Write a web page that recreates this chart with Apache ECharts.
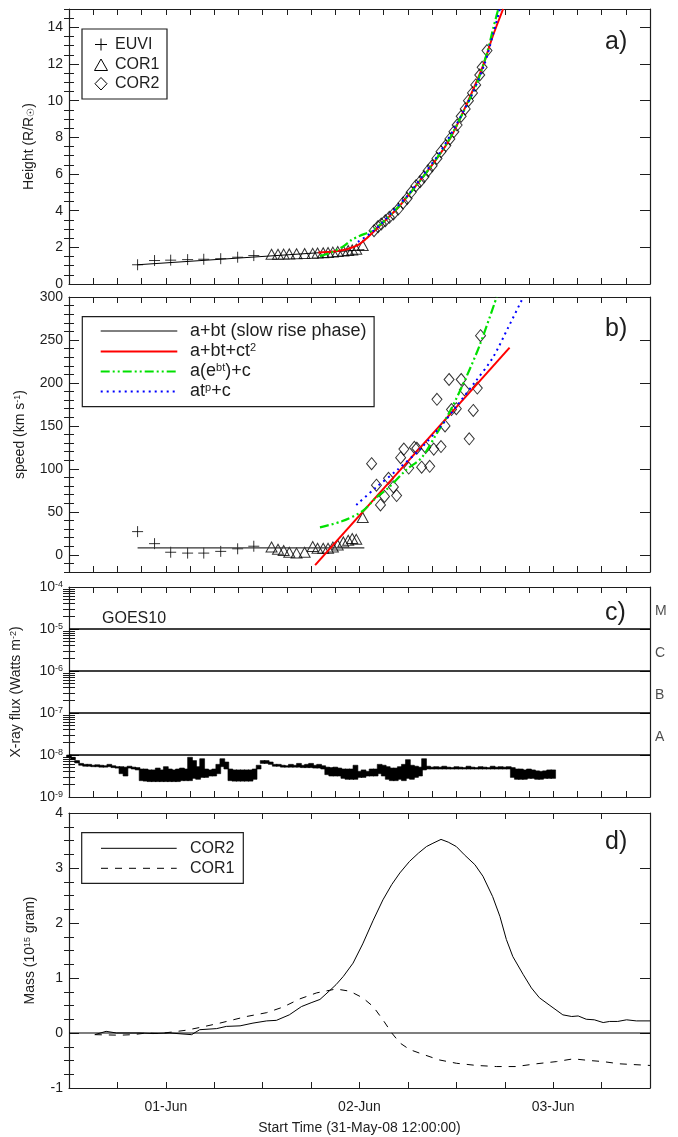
<!DOCTYPE html>
<html><head><meta charset="utf-8">
<script src="https://cdn.jsdelivr.net/npm/echarts@6/dist/echarts.min.js"></script>
<style>html,body{margin:0;padding:0;background:#fff}#c{width:678px;height:1137px}</style>
</head><body><div id="c"></div>
<script>
// ---------------- DATA (hours since 31-May-08 12:00) ----------------
const xTickHours = [12, 36, 60];
const xTickLabels = ['01-Jun', '02-Jun', '03-Jun'];

// panel a/b : observations
const euviT = [8.5, 10.6, 12.6, 14.7, 16.7, 18.8, 20.9, 22.9];
const euviHeight = [1.05, 1.28, 1.30, 1.33, 1.35, 1.38, 1.46, 1.55];
const euviSpeed = [27, 13, 3, 2, 2, 4, 7, 10];

const cor1T = [25.1, 25.9, 26.6, 27.3, 28.2, 29.2, 30.2, 30.8, 31.5, 32.1, 32.7, 33.3, 34.0, 34.6, 35.1, 35.6, 36.4];
const cor1Height = [1.62, 1.62, 1.63, 1.64, 1.65, 1.66, 1.67, 1.69, 1.70, 1.72, 1.74, 1.77, 1.80, 1.83, 1.86, 1.90, 2.10];
const cor1Speed = [9, 6.5, 5, 3, 2, 3, 9.6, 7.7, 7.7, 7.7, 9, 11.5, 15, 17, 19, 18, 43.5];

const cor2T = [37.8, 38.3, 38.7, 39.2, 39.7, 40.2, 40.8, 41.4, 41.9, 42.4, 43.0, 43.5, 44.0, 44.5, 45.0, 45.6, 46.1, 46.7, 47.2, 47.7, 48.1, 48.6, 49.1, 49.5, 50.0, 50.4, 50.9, 51.2, 51.8];
const cor2Height = [2.91, 3.13, 3.27, 3.45, 3.64, 3.82, 4.09, 4.42, 4.67, 5.0, 5.36, 5.58, 5.85, 6.18, 6.45, 6.85, 7.22, 7.55, 7.91, 8.31, 8.67, 9.15, 9.55, 10.0, 10.42, 10.86, 11.4, 11.82, 12.73];
const cor2SpeedT = [37.5, 38.1, 38.6, 39.1, 39.6, 40.2, 40.6, 41.1, 41.5, 42.1, 42.8, 43.1, 43.7, 44.2, 44.7, 45.2, 45.6, 46.1, 46.6, 47.1, 47.4, 48.0, 48.6, 49.0, 49.6, 50.1, 50.6, 51.0];
const cor2Speed = [106, 81, 58, 68, 89, 79, 69, 113, 123, 101, 125, 124, 102, 125, 103, 123, 181, 126, 150, 204, 169, 170, 204, 192, 135, 168, 194, 255];

// panel a : fits (height)
const linFitT_a = [8.5, 36.6];
const linFitH = [1.05, 1.87];
const quadFitT_a = [30.9, 32.5, 34, 35, 36, 36.9, 38.1, 39.5, 41, 43, 45.1, 47.2, 49.2, 51.3, 52.5, 53.8];
const quadFitH = [1.72, 1.76, 1.85, 1.98, 2.18, 2.5, 3.0, 3.6, 4.27, 5.36, 6.55, 7.91, 9.73, 11.9, 13.5, 15.0];
const expFitT_a = [31.1, 32.5, 34, 35, 36, 37.5, 39, 41, 43, 45, 47, 49, 50.5, 51.8, 52.6, 53.2];
const expFitH = [1.52, 1.72, 2.05, 2.4, 2.62, 2.9, 3.4, 4.3, 5.35, 6.5, 7.8, 9.5, 10.9, 12.6, 14.0, 15.0];
const powFitT_a = [35.8, 37, 38.5, 40, 42, 44, 46, 48, 50, 51.5, 52.6, 53.4];
const powFitH = [2.3, 2.65, 3.2, 3.9, 4.85, 6.0, 7.2, 8.7, 10.4, 12.0, 13.7, 15.0];

// panel b : fits (speed)
const linFitT_b = [8.5, 36.6];
const linFitV = [8, 8];
const quadFitT_b = [30.5, 54.6];
const quadFitV = [-12, 241];
const expFitT_b = [31.1, 33.8, 36.4, 38.0, 39.6, 41.8, 43.7, 45.5, 47.1, 49.0, 50.9, 53.0];
const expFitV = [32, 39, 51, 66, 78, 99, 113, 140, 165, 202, 244, 300];
const powFitT_b = [35.6, 38.0, 40.7, 43.4, 46.1, 48.2, 50.4, 52.5, 54.4, 56.3];
const powFitV = [58, 78, 99, 122, 150, 175, 202, 229, 264, 300];

// panel c : GOES10 X-ray flux envelope (units of 1e-9 W m^-2)
const goesT = [0,0.5,1,1.5,2,2.5,3,3.5,4,4.5,5,5.5,6,6.5,7,7.5,8,8.5,9,9.5,10,10.5,11,11.5,12,12.5,13,13.5,14,14.5,15,15.5,16,16.5,17,17.5,18,18.5,19,19.5,20,20.5,21,21.5,22,22.5,23,23.5,24,24.5,25,25.5,26,26.5,27,27.5,28,28.5,29,29.5,30,30.5,31,31.5,32,32.5,33,33.5,34,34.5,35,35.5,36,36.5,37,37.5,38,38.5,39,39.5,40,40.5,41,41.5,42,42.5,43,43.5,44,44.5,45,45.5,46,46.5,47,47.5,48,48.5,49,49.5,50,50.5,51,51.5,52,52.5,53,53.5,54,54.5,55,55.5,56,56.5,57,57.5,58,58.5,59,59.5,60];
const goesUpper = [10,8.8,7.36,6.31,5.99,5.99,5.70,5.85,5.70,5.55,
 5.99,5.55,5.27,5.27,5.14,5.41,5.14,5.01,4.64,4.64,
 4.41,4.41,4.89,4.41,5.27,4.64,4.41,4.64,4.89,4.64,
 8.8,7.36,5.27,8.15,4.64,4.41,4.64,5.99,8.15,6.81,
 4.64,4.41,4.41,4.41,4.41,4.41,4.64,5.70,7.36,7.36,
 6.81,5.99,5.99,5.70,5.55,5.99,5.70,6.31,5.70,5.99,
 6.31,5.70,5.99,5.55,5.14,5.01,5.14,4.89,4.64,4.64,
 4.64,5.70,4.08,4.41,4.08,4.64,4.64,5.99,5.70,5.27,
 4.89,4.89,5.27,5.99,7.74,5.70,5.41,5.14,8.15,5.41,
 5.14,5.27,5.14,5.41,5.14,5.01,5.27,5.14,5.01,5.41,
 5.14,5.01,5.27,5.14,5.01,5.41,5.14,5.27,5.14,5.27,
 5.01,4.64,4.64,4.41,4.64,4.41,4.19,4.08,4.19,4.41,
 4.41];
const goesLower = [8.8,7.74,6.47,5.70,5.41,5.41,5.27,5.27,5.14,5.14,
 5.27,5.01,4.89,3.59,3.16,4.89,4.64,4.41,2.45,2.39,
 2.33,2.33,2.33,2.33,2.33,2.33,2.33,2.33,2.45,2.45,
 2.45,2.78,2.64,2.93,2.93,3.16,3.16,3.59,5.27,4.64,
 2.45,2.39,2.39,2.39,2.39,2.39,2.64,4.64,6.31,6.31,
 5.99,5.41,5.41,5.14,5.14,5.14,5.14,5.14,5.01,5.01,
 5.01,4.89,4.89,4.64,3.41,3.16,3.16,3.16,2.78,2.64,
 2.64,2.64,2.93,2.93,3.16,3.16,3.16,3.59,3.16,2.64,
 2.45,2.45,2.64,2.45,2.78,2.64,2.93,3.16,4.41,4.64,
 4.64,4.64,4.64,4.64,4.64,4.64,4.64,4.64,4.64,4.64,
 4.64,4.64,4.64,4.64,4.64,4.64,4.64,4.64,4.64,4.64,
 2.93,2.64,2.64,2.64,2.78,2.78,2.64,2.64,2.78,2.78,
 2.78];
const flareLevels = [1e-8, 1e-7, 1e-6, 1e-5];
const flareClasses = ['A', 'B', 'C', 'M'];
const flareClassLabelAt = [2.6e-8, 2.6e-7, 2.6e-6, 2.6e-5];

// panel d : mass (1e15 g)
const massCor2T = [3.2,4.6,5.9,8.8,10.4,12.5,15.2,16.2,18.3,19.5,21.2,22.8,24.5,25.7,27.3,28.8,30.0,31.1,32.3,33.1,34.0,35.2,36.4,37.7,38.9,40.0,41.0,42.2,43.3,44.3,45.1,46.1,47.0,48.0,49.0,50.3,51.3,52.5,53.4,54.2,55.0,56.3,57.3,58.3,59.6,61.2,62.3,63.1,64.1,65.1,66.2,67.0,68.0,69.1,70.3,72];
const massCor2 = [-0.03,0.03,0.0,0.0,-0.01,0.0,-0.03,0.06,0.08,0.12,0.13,0.18,0.22,0.23,0.33,0.48,0.55,0.61,0.77,0.88,1.03,1.27,1.62,2.05,2.42,2.70,2.91,3.12,3.27,3.39,3.45,3.52,3.47,3.39,3.24,3.06,2.85,2.48,2.12,1.70,1.39,1.06,0.82,0.64,0.50,0.33,0.30,0.31,0.25,0.24,0.19,0.21,0.21,0.24,0.22,0.22];
const massCor1T = [3.2,6.3,7.9,9.6,11.2,12.9,14.5,16.2,18.7,22.0,24.5,26.5,28.6,30.7,33.1,34.8,36.4,37.7,38.9,40.0,41.0,42.2,43.9,45.9,48.0,50.5,53.0,55.4,57.9,60.4,62.5,64.5,66.2,68.2,72];
const massCor1 = [-0.03,-0.04,-0.03,0.0,-0.01,0.02,0.05,0.10,0.18,0.30,0.37,0.47,0.62,0.73,0.80,0.76,0.64,0.48,0.24,0.0,-0.18,-0.30,-0.39,-0.49,-0.55,-0.59,-0.61,-0.61,-0.56,-0.52,-0.47,-0.50,-0.52,-0.56,-0.59];

// ---------------- STYLE / LAYOUT ----------------
const FONT = "'Liberation Sans', Arial, Helvetica, sans-serif";
const INK = '#1e1e1e';
const X0 = 0, X1 = 72;
const grids = [
  {left: 69, width: 581, top: 9, height: 275},
  {left: 69, width: 581, top: 297, height: 275},
  {left: 69, width: 581, top: 587, height: 210},
  {left: 69, width: 581, top: 813, height: 275}
];
const richName = {
  n: {fontSize: 14, fontFamily: FONT, color: INK},
  sup: {fontSize: 9, fontFamily: FONT, color: INK, verticalAlign: 'top'},
  sub: {fontSize: 10, fontFamily: FONT, color: INK, verticalAlign: 'bottom'}
};

function seq(a, b, s) { const r = []; for (let v = a; v <= b + 1e-9; v += s) r.push(Math.round(v * 1e6) / 1e6); return r; }
function minus(arr, ex) { return arr.filter(v => !ex.some(e => Math.abs(e - v) < 1e-9)); }

const xAxes = [], yAxes = [];
function addX(gi, step, bottomLabel) {
  const ticks = seq(X0, X1, step);
  const base = {
    type: 'value', gridIndex: gi, min: X0, max: X1, splitLine: {show: false},
    axisLine: {show: true, onZero: false, lineStyle: {color: INK, width: 1.2}},
    axisTick: {show: true, inside: true, length: 6, customValues: ticks, lineStyle: {color: INK, width: 1}}
  };
  const bottom = Object.assign({}, base, {position: 'bottom', axisLabel: {show: false}});
  if (bottomLabel) {
    bottom.axisLabel = {
      show: true, customValues: xTickHours, margin: 12, fontSize: 14, color: INK, fontFamily: FONT,
      formatter: v => { const i = xTickHours.indexOf(v); return i >= 0 ? xTickLabels[i] : ''; }
    };
    bottom.name = 'Start Time (31-May-08 12:00:00)';
    bottom.nameLocation = 'middle';
    bottom.nameGap = 33;
    bottom.nameTextStyle = {fontSize: 14, color: INK, fontFamily: FONT};
  }
  xAxes.push(bottom);
  xAxes.push(Object.assign({}, base, {position: 'top', axisLabel: {show: false}}));
}
function addY(gi, c) {
  const common = {type: c.type || 'value', gridIndex: gi, min: c.min, max: c.max, splitLine: {show: false}};
  if (c.type === 'log') common.logBase = 10;
  const line = {show: true, onZero: false, lineStyle: {color: INK, width: 1.2}};
  const tickStyle = {color: INK, width: 1};
  yAxes.push(Object.assign({}, common, {
    position: 'left', axisLine: line,
    axisTick: {show: true, inside: true, length: 10, customValues: c.major, lineStyle: tickStyle},
    axisLabel: Object.assign({show: true, customValues: c.major, margin: 6, fontSize: 14, color: INK, fontFamily: FONT}, c.label || {}),
    name: c.name, nameLocation: 'middle', nameGap: c.nameGap,
    nameTextStyle: {fontSize: 14, color: INK, fontFamily: FONT, rich: richName}
  }));
  yAxes.push(Object.assign({}, common, {
    position: 'left', axisLine: {show: false},
    axisTick: {show: true, inside: true, length: c.minorLen || 5, customValues: c.minor, lineStyle: tickStyle},
    axisLabel: {show: false}
  }));
  yAxes.push(Object.assign({}, common, {
    position: 'right', axisLine: line,
    axisTick: {show: true, inside: true, length: 10, customValues: c.major, lineStyle: tickStyle},
    axisLabel: {show: false}
  }));
  yAxes.push(Object.assign({}, common, {
    position: 'right', axisLine: {show: false},
    axisTick: {show: true, inside: true, length: c.minorLen || 5, customValues: c.minor, lineStyle: tickStyle},
    axisLabel: {show: false}
  }));
}

addX(0, 3, false); addX(1, 3, false); addX(2, 3, false); addX(3, 6, true);

const aMajor = seq(0, 14, 2);
addY(0, {min: 0, max: 15, major: aMajor, minor: minus(seq(0, 15, 0.5), aMajor),
  name: '{n|Height (R/R}{sub|☉}{n|)}', nameGap: 33});
const bMajor = seq(0, 300, 50);
addY(1, {min: -20, max: 300, major: bMajor, minor: minus(seq(-20, 300, 10), bMajor),
  name: '{n|speed (km s}{sup|-1}{n|)}', nameGap: 42});
const cMajor = [1e-9, 1e-8, 1e-7, 1e-6, 1e-5, 1e-4];
const cMinor = [];
cMajor.slice(0, 5).forEach(d => { for (let k = 2; k <= 9; k++) cMinor.push(d * k); });
addY(2, {type: 'log', min: 1e-9, max: 1e-4, major: cMajor, minor: cMinor, minorLen: 6,
  label: {formatter: v => '{b|10}{e|' + Math.round(Math.log10(v)) + '}',
    rich: {b: {fontSize: 14, fontFamily: FONT, color: INK}, e: {fontSize: 9, fontFamily: FONT, color: INK, verticalAlign: 'top'}}},
  name: '{n|X-ray flux (Watts m}{sup|-2}{n|)}', nameGap: 46});
const dMajor = seq(-1, 4, 1);
addY(3, {min: -1, max: 4, major: dMajor, minor: minus(seq(-1, 4, 0.25), dMajor),
  name: '{n|Mass (10}{sup|15}{n| gram)}', nameGap: 32});

// ---------------- SERIES ----------------
const PLUS = 'path://M0,5L10,5M5,0L5,10';
function pts(xs, ys) { return xs.map((t, i) => [t, ys[i]]); }
function scat(name, gi, xs, ys, symbol, size) {
  return {type: 'scatter', name, xAxisIndex: gi * 2, yAxisIndex: gi * 4, data: pts(xs, ys),
    symbol, symbolSize: size, z: 3, silent: true,
    itemStyle: {color: 'rgba(0,0,0,0)', borderColor: '#000', borderWidth: 1}};
}
function ln(name, gi, xs, ys, style, smooth) {
  return {type: 'line', name, xAxisIndex: gi * 2, yAxisIndex: gi * 4, data: pts(xs, ys),
    symbol: 'none', smooth: smooth || false, z: 4, silent: true, lineStyle: style};
}
const S_LIN = {color: '#000', width: 1};
const S_QUAD = {color: '#ff0000', width: 2};
const S_EXP = {color: '#00e000', width: 2.2, type: [9, 3, 2, 3, 2, 3]};
const S_POW = {color: '#0000ff', width: 2, type: [2, 4]};

const series = [
  // panel a
  scat('EUVI', 0, euviT, euviHeight, PLUS, 11),
  scat('COR1', 0, cor1T, cor1Height, 'triangle', [11, 10]),
  scat('COR2', 0, cor2T, cor2Height, 'diamond', [10, 12]),
  ln('a+bt', 0, linFitT_a, linFitH, S_LIN),
  ln('a+bt+ct2', 0, quadFitT_a, quadFitH, S_QUAD, 0.3),
  ln('a(e^bt)+c', 0, expFitT_a, expFitH, S_EXP, 0.3),
  ln('at^p+c', 0, powFitT_a, powFitH, S_POW, 0.3),
  // panel b
  scat('EUVI', 1, euviT, euviSpeed, PLUS, 11),
  scat('COR1', 1, cor1T, cor1Speed, 'triangle', [11, 10]),
  scat('COR2', 1, cor2SpeedT, cor2Speed, 'diamond', [10, 12]),
  ln('a+bt', 1, linFitT_b, linFitV, {color: '#333', width: 1.2}),
  ln('a+bt+ct2', 1, quadFitT_b, quadFitV, S_QUAD),
  ln('a(e^bt)+c', 1, expFitT_b, expFitV, S_EXP, 0.3),
  ln('at^p+c', 1, powFitT_b, powFitV, S_POW, 0.3),
  // panel c
  {type: 'custom', name: 'GOES10', xAxisIndex: 4, yAxisIndex: 8, silent: true, z: 3,
    data: goesT.map((t, i) => [t, goesLower[i] * 1e-9, goesUpper[i] * 1e-9]),
    encode: {x: 0, y: [1, 2]},
    renderItem: (params, api) => {
      const half = 0.3;
      const p1 = api.coord([api.value(0) - half, api.value(2)]);
      const p2 = api.coord([api.value(0) + half, api.value(1)]);
      return {type: 'rect', shape: {x: p1[0], y: p1[1], width: p2[0] - p1[0], height: Math.max(p2[1] - p1[1], 1.4)},
        style: {fill: '#000', stroke: '#000', lineWidth: 0.6}};
    }},
  ...flareLevels.map(v => ({type: 'line', name: 'level', xAxisIndex: 4, yAxisIndex: 8, symbol: 'none', silent: true,
    data: [[X0, v], [X1, v]], lineStyle: {color: '#000', width: 1.6}, z: 2})),
  {type: 'scatter', name: 'class', xAxisIndex: 4, yAxisIndex: 8, symbolSize: 0, clip: false, silent: true,
    data: flareClassLabelAt.map((v, i) => ({value: [X1, v], name: flareClasses[i]})),
    label: {show: true, position: 'right', distance: 5, formatter: '{b}', fontSize: 14, color: INK, fontFamily: FONT}},
  // panel d
  {type: 'line', name: 'zero', xAxisIndex: 6, yAxisIndex: 12, symbol: 'none', silent: true,
    data: [[X0, 0], [X1, 0]], lineStyle: {color: '#000', width: 1.2}, z: 2},
  ln('COR2', 3, massCor2T, massCor2, {color: '#000', width: 1}),
  ln('COR1', 3, massCor1T, massCor1, {color: '#000', width: 1, type: [7, 7]})
];

// ---------------- ANNOTATIONS (legends, panel letters) ----------------
const graphics = [];
function gText(x, y, text, size, rich) {
  const st = {text, fontSize: size, fontFamily: FONT, fill: INK, verticalAlign: 'middle', align: 'left'};
  if (rich) st.rich = rich;
  graphics.push({type: 'text', x, y, z: 100, silent: true, style: st});
}
function gLine(x1, y1, x2, y2, style) {
  graphics.push({type: 'line', z: 100, silent: true, shape: {x1, y1, x2, y2}, style: Object.assign({stroke: '#000', lineWidth: 1}, style)});
}
function gRect(x, y, w, h) {
  graphics.push({type: 'rect', z: 99, silent: true, shape: {x, y, width: w, height: h}, style: {fill: '#fff', stroke: INK, lineWidth: 1.2}});
}
function gPoly(points) {
  graphics.push({type: 'polygon', z: 100, silent: true, shape: {points}, style: {fill: 'none', stroke: '#000', lineWidth: 1}});
}
// panel letters
gText(605, 42, 'a)', 25); gText(605, 329, 'b)', 25); gText(605, 613, 'c)', 25); gText(605, 842, 'd)', 25);
gText(102, 619, 'GOES10', 16);
// legend a
gRect(82, 29, 85, 70);
gLine(95, 44.5, 107, 44.5); gLine(101, 38.5, 101, 50.5);
gPoly([[94.5, 70.5], [107.5, 70.5], [101, 59]]);
gPoly([[101, 77.5], [107, 83.7], [101, 90], [95, 83.7]]);
gText(115, 44.5, 'EUVI', 16); gText(115, 64.7, 'COR1', 16); gText(115, 83.7, 'COR2', 16);
// legend b
const richLeg = {n: {fontSize: 18, fontFamily: FONT, fill: INK}, s: {fontSize: 11, fontFamily: FONT, fill: INK, verticalAlign: 'top'}};
gRect(82.3, 316.7, 291.8, 90);
gLine(100.7, 331, 177.3, 331, {stroke: '#000', lineWidth: 1});
gLine(100.7, 351.5, 177.3, 351.5, {stroke: '#ff0000', lineWidth: 2});
gLine(100.7, 371.5, 177.3, 371.5, {stroke: '#00e000', lineWidth: 2.2, lineDash: [9, 3, 2, 3, 2, 3]});
gLine(100.7, 391.5, 177.3, 391.5, {stroke: '#0000ff', lineWidth: 2, lineDash: [2, 4]});
gText(190, 331, '{n|a+bt (slow rise phase)}', 18, richLeg);
gText(190, 351.5, '{n|a+bt+ct}{s|2}', 18, richLeg);
gText(190, 371.5, '{n|a(e}{s|bt}{n|)+c}', 18, richLeg);
gText(190, 391.5, '{n|at}{s|p}{n|+c}', 18, richLeg);
// legend d
gRect(81.7, 832.7, 161.6, 50.6);
gLine(101, 848.3, 176.7, 848.3, {stroke: '#000', lineWidth: 1});
gLine(101, 868.3, 176.7, 868.3, {stroke: '#000', lineWidth: 1, lineDash: [7, 7]});
gText(190, 848.3, 'COR2', 16); gText(190, 868.3, 'COR1', 16);

const chart = echarts.init(document.getElementById('c'), null, {renderer: 'canvas'});
chart.setOption({
  animation: false,
  backgroundColor: '#fff',
  textStyle: {fontFamily: FONT},
  grid: grids,
  xAxis: xAxes,
  yAxis: yAxes,
  series: series,
  graphic: graphics
});
</script></body></html>
